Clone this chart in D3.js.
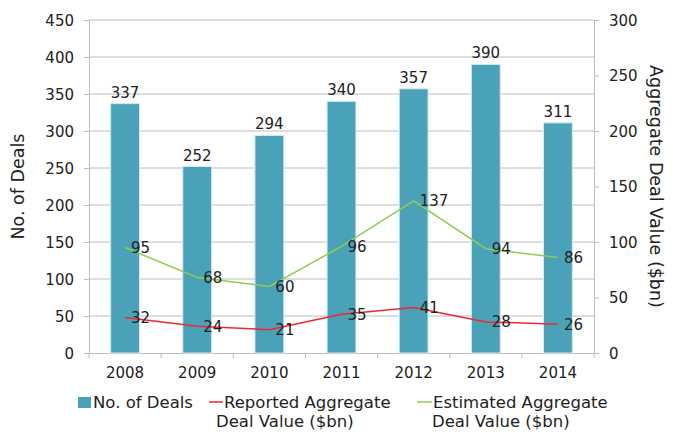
<!DOCTYPE html>
<html>
<head>
<meta charset="utf-8">
<script src="https://cdn.jsdelivr.net/npm/d3@7"></script>
<style>
  body { margin: 0; background: #fff; }
  text { font-family: "DejaVu Sans", sans-serif; fill: #222; }
</style>
</head>
<body>
<div id="canvas"></div>
<script>
// Chart data
var years = ["2008", "2009", "2010", "2011", "2012", "2013", "2014"];
var deals = [337, 252, 294, 340, 357, 390, 311];
var reported = [32, 24, 21, 35, 41, 28, 26];
var estimated = [95, 68, 60, 96, 137, 94, 86];
var leftTicks = [0, 50, 100, 150, 200, 250, 300, 350, 400, 450];
var rightTicks = [0, 50, 100, 150, 200, 250, 300];

var w = 673, h = 432;
var margin = {top: 20, right: 79, bottom: 79, left: 89};
var innerWidth = w - margin.left - margin.right;
var innerHeight = h - margin.top - margin.bottom;

var barColor = "#4AA2B9";
var redColor = "#F0282D";
var greenColor = "#92CC4E";
var gridColor = "#BEBEBE";
var numSize = 15;
var textSize = 16.5;
var titleSize = 17.5;

var svg = d3.select("#canvas")
    .append("svg")
    .attr("width", w)
    .attr("height", h);

// scales
var x_scale = d3.scaleBand()
    .domain(years)
    .range([margin.left, margin.left + innerWidth])
    .paddingInner(0.6)
    .paddingOuter(0.3);

var yLeft = d3.scaleLinear()
    .domain([0, 450])
    .range([margin.top + innerHeight, margin.top]);

var yRight = d3.scaleLinear()
    .domain([0, 300])
    .range([margin.top + innerHeight, margin.top]);

var cx = function(i) { return x_scale(years[i]) + x_scale.bandwidth() / 2; };

// gridlines
svg.append("g")
    .selectAll("line")
    .data(leftTicks.filter(d => d > 0))
    .join("line")
    .attr("x1", margin.left)
    .attr("x2", margin.left + innerWidth)
    .attr("y1", d => yLeft(d))
    .attr("y2", d => yLeft(d))
    .attr("stroke", gridColor)
    .attr("stroke-width", 1);

// left axis
var leftAxis = svg.append("g")
    .attr("transform", `translate(${margin.left},0)`)
    .call(d3.axisLeft(yLeft).tickValues(leftTicks).tickSize(5).tickPadding(10));
leftAxis.selectAll(".tick text").attr("dy", null).attr("y", numSize * 0.36);

// right axis
var rightAxis = svg.append("g")
    .attr("transform", `translate(${margin.left + innerWidth},0)`)
    .call(d3.axisRight(yRight).tickValues(rightTicks).tickSize(5).tickPadding(10));
rightAxis.selectAll(".tick text").attr("dy", null).attr("y", numSize * 0.36);

// bottom axis (ticks drawn between categories below)
var bottomAxis = svg.append("g")
    .attr("transform", `translate(0,${margin.top + innerHeight})`)
    .call(d3.axisBottom(x_scale).tickSize(0).tickPadding(14));
bottomAxis.selectAll(".tick text").attr("dy", null).attr("y", 14 + numSize * 0.72);

var boundaries = d3.range(years.length + 1).map(i => margin.left + i * innerWidth / years.length);
svg.append("g")
    .selectAll("line")
    .data(boundaries)
    .join("line")
    .attr("x1", d => d)
    .attr("x2", d => d)
    .attr("y1", margin.top + innerHeight)
    .attr("y2", margin.top + innerHeight + 5)
    .attr("stroke", gridColor);

[leftAxis, rightAxis, bottomAxis].forEach(function(a) {
    a.attr("font-family", null).attr("font-size", null);
    a.selectAll("text").style("font-size", numSize + "px").attr("fill", "#222");
    a.selectAll("path.domain").attr("stroke", gridColor);
    a.selectAll(".tick line").attr("stroke", gridColor);
});

// bars
svg.append("g")
    .selectAll("rect")
    .data(deals)
    .join("rect")
    .attr("x", (d, i) => x_scale(years[i]))
    .attr("y", d => yLeft(d))
    .attr("width", x_scale.bandwidth())
    .attr("height", d => yLeft(0) - yLeft(d))
    .attr("fill", barColor)
    .attr("stroke", "#d4eaf0")
    .attr("stroke-width", 1);

// bar labels
svg.append("g")
    .selectAll("text")
    .data(deals)
    .join("text")
    .attr("x", (d, i) => cx(i))
    .attr("y", d => yLeft(d) - 6)
    .attr("text-anchor", "middle")
    .style("font-size", numSize + "px")
    .text(d => d);

// lines
var line = d3.line()
    .x((d, i) => cx(i))
    .y(d => yRight(d));

svg.append("path")
    .datum(estimated)
    .attr("d", line)
    .attr("fill", "none")
    .attr("stroke", greenColor)
    .attr("stroke-width", 1.5);

svg.append("path")
    .datum(reported)
    .attr("d", line)
    .attr("fill", "none")
    .attr("stroke", redColor)
    .attr("stroke-width", 1.5);

// line labels (to the right of each point)
[estimated, reported].forEach(function(series) {
    svg.append("g")
        .selectAll("text")
        .data(series)
        .join("text")
        .attr("x", (d, i) => cx(i) + 6)
        .attr("y", d => yRight(d) + numSize * 0.36)
        .style("font-size", numSize + "px")
        .text(d => d);
});

// axis titles
svg.append("text")
    .attr("transform", "rotate(-90)")
    .attr("x", -(margin.top + innerHeight / 2))
    .attr("y", 24)
    .attr("text-anchor", "middle")
    .style("font-size", titleSize + "px")
    .text("No. of Deals");

svg.append("text")
    .attr("transform", "rotate(90)")
    .attr("x", margin.top + innerHeight / 2)
    .attr("y", -650)
    .attr("text-anchor", "middle")
    .style("font-size", titleSize + "px")
    .text("Aggregate Deal Value ($bn)");

// legend
var legend = svg.append("g");
var ly1 = 402, ly2 = 421, base = textSize * 0.36;
legend.append("rect")
    .attr("x", 78).attr("y", 397)
    .attr("width", 13).attr("height", 11)
    .attr("fill", barColor);
legend.append("text")
    .attr("x", 93).attr("y", ly1 + base)
    .style("font-size", textSize + "px")
    .text("No. of Deals");

legend.append("line")
    .attr("x1", 209).attr("x2", 223)
    .attr("y1", ly1).attr("y2", ly1)
    .attr("stroke", redColor).attr("stroke-width", 1.5);
legend.append("text")
    .attr("x", 224).attr("y", ly1 + base)
    .style("font-size", textSize + "px")
    .text("Reported Aggregate");
legend.append("text")
    .attr("x", 216).attr("y", ly2 + base)
    .style("font-size", textSize + "px")
    .text("Deal Value ($bn)");

legend.append("line")
    .attr("x1", 417).attr("x2", 432)
    .attr("y1", ly1).attr("y2", ly1)
    .attr("stroke", greenColor).attr("stroke-width", 1.5);
legend.append("text")
    .attr("x", 433).attr("y", ly1 + base)
    .style("font-size", textSize + "px")
    .text("Estimated Aggregate");
legend.append("text")
    .attr("x", 432).attr("y", ly2 + base)
    .style("font-size", textSize + "px")
    .text("Deal Value ($bn)");
</script>
</body>
</html>
